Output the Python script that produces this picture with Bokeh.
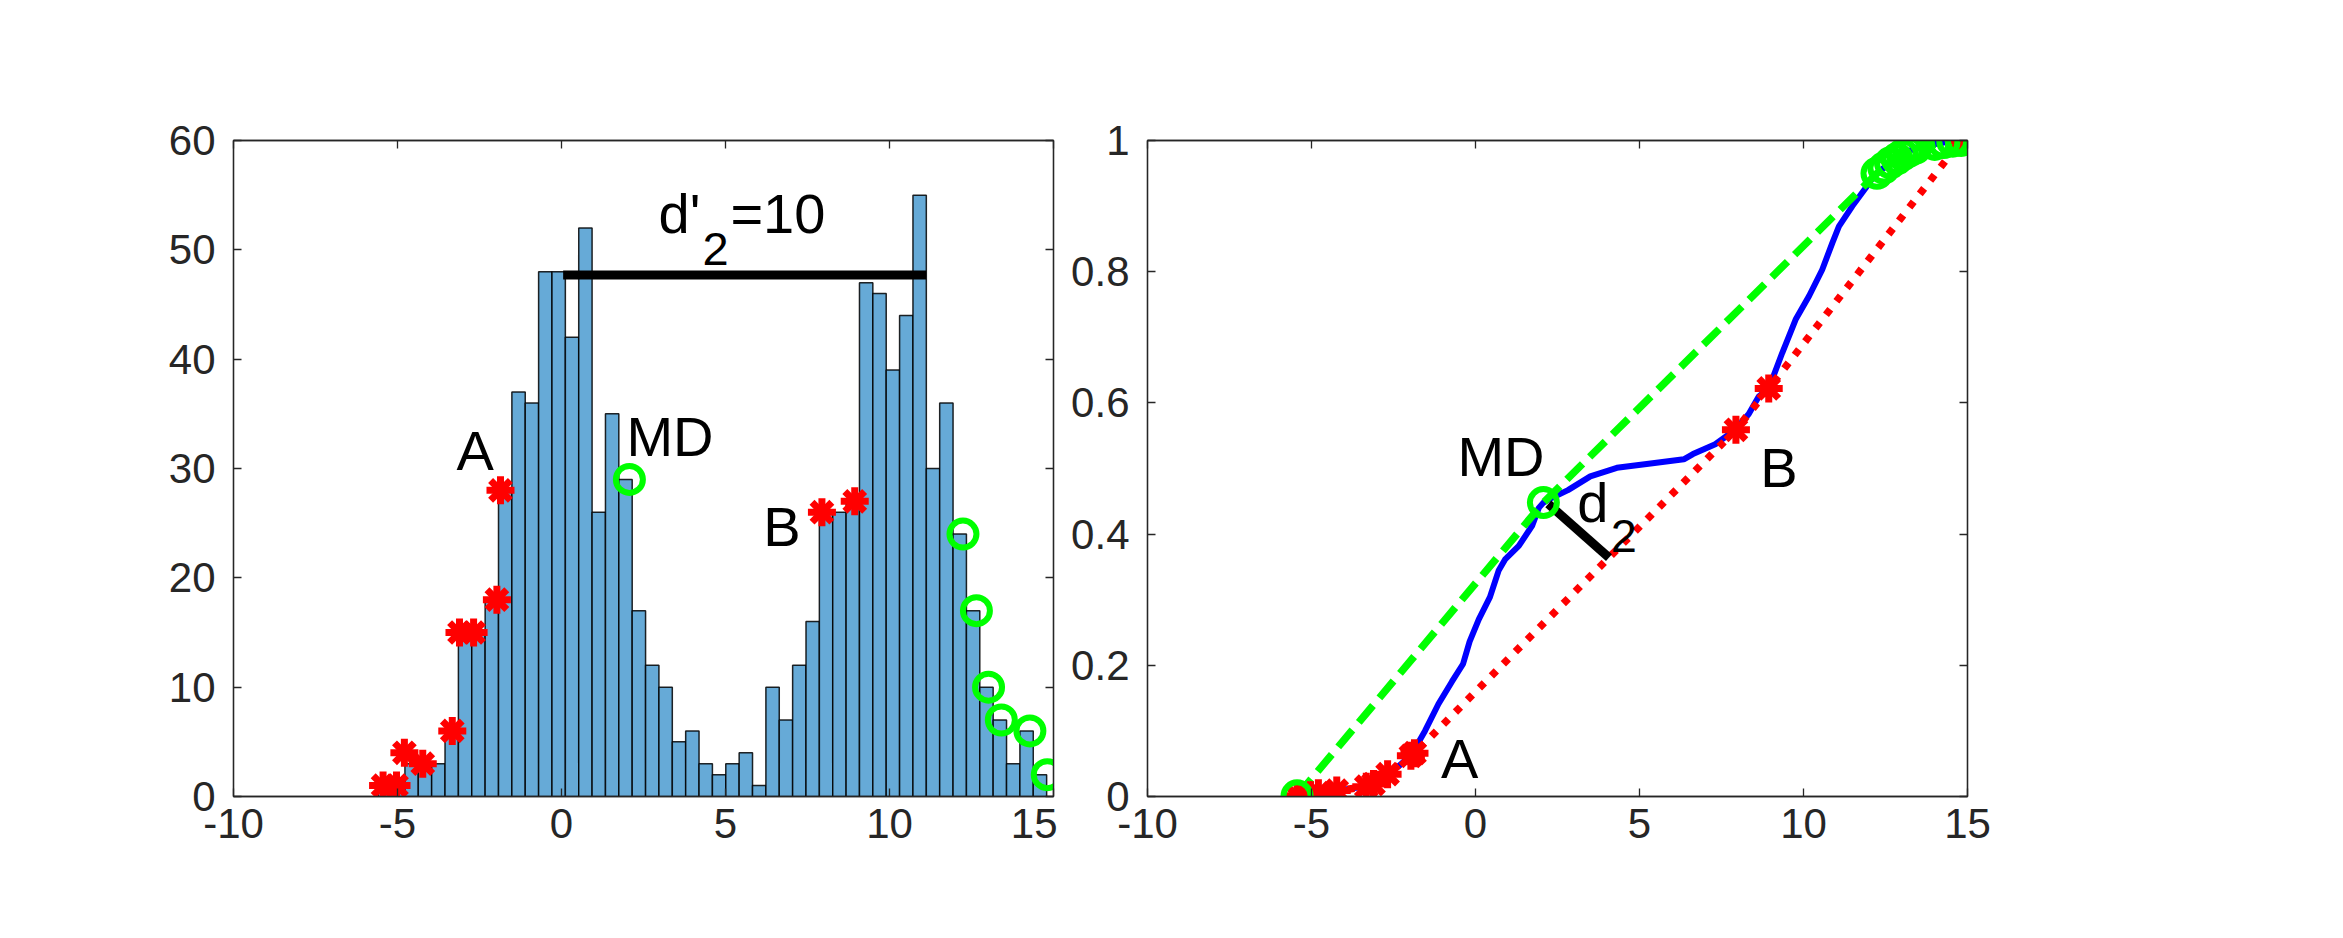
from bokeh.plotting import figure
from bokeh.layouts import row
from bokeh.models import Range1d, LinearAxis, FixedTicker
from bokeh.embed import file_html
from bokeh.resources import INLINE
from bokeh.core.properties import value
import numpy as np

# ---------------- data ----------------
x_ticks = [-10, -5, 0, 5, 10, 15]
x_tick_labels = ["-10", "-5", "0", "5", "10", "15"]
hist_y_ticks = [0, 10, 20, 30, 40, 50, 60]
cdf_y_ticks = [0, 0.2, 0.4, 0.6, 0.8, 1.0]
cdf_y_tick_labels = ["0", "0.2", "0.4", "0.6", "0.8", "1"]

# histogram: 50 bins
bin_start = -5.589
bin_width = 0.4076
counts = [1, 1, 3, 3, 3, 6, 15, 15, 18, 28,
          37, 36, 48, 48, 42, 52, 26, 35, 29, 17,
          12, 10, 5, 6, 3, 2, 3, 4, 1, 10,
          7, 12, 16, 26, 26, 27, 47, 46, 39, 44,
          55, 30, 36, 24, 17, 10, 7, 3, 6, 2]

# red star points (minorant vertices)
red_x = [-5.44, -5.03, -4.79, -4.23, -3.33, -3.11, -2.68, -1.97, -1.86, 7.94, 8.94]
red_hist = [1, 1, 4, 3, 6, 15, 15, 18, 28, 26, 27]
red_cdf_x = [-5.44, -5.03, -4.79, -4.23, -3.33, -3.11, -2.68, -1.97, -1.86, 7.94, 8.94, 14.81]
red_cdf = [0.001, 0.002, 0.005, 0.009, 0.015, 0.019, 0.034, 0.062, 0.066, 0.559, 0.622, 1.0]

# green circle points (majorant vertices)
green_x = [2.07, 12.24, 12.65, 13.02, 13.41, 14.28, 14.81]
green_hist = [29, 24, 17, 10, 7, 6, 2]
green_cdf_x = [-5.44, 2.07, 12.24, 12.45, 12.65, 12.85, 13.02, 13.20, 13.41, 14.0, 14.28, 14.55, 14.81]
green_cdf = [0.001, 0.448, 0.950, 0.958, 0.966, 0.972, 0.978, 0.983, 0.988, 0.994, 0.997, 0.999, 1.0]

# empirical CDF (blue curve)
cdf_x = [-5.44, -5.03, -4.79, -4.26, -3.8, -3.31, -2.9, -2.63, -2.3, -1.95,
         -1.54, -1.13, -0.72, -0.38, -0.18, 0.10, 0.44, 0.71, 0.91, 1.32,
         1.73, 1.93, 2.07, 2.27, 2.82, 3.50, 4.31, 5.40, 6.35, 6.63,
         7.31, 7.92, 8.33, 8.64, 8.94, 9.35, 9.76, 10.17, 10.57, 10.88,
         11.08, 11.49, 11.90, 12.15, 12.51, 12.91, 13.42, 13.93, 14.28, 14.64, 14.81]
cdf_y = [0.001, 0.002, 0.005, 0.009, 0.012, 0.016, 0.025, 0.036, 0.048, 0.064,
         0.100, 0.141, 0.175, 0.202, 0.236, 0.270, 0.304, 0.345, 0.362, 0.382,
         0.413, 0.440, 0.448, 0.454, 0.467, 0.488, 0.501, 0.508, 0.514, 0.522,
         0.537, 0.559, 0.583, 0.610, 0.622, 0.676, 0.727, 0.763, 0.803, 0.844,
         0.869, 0.900, 0.928, 0.946, 0.961, 0.976, 0.989, 0.994, 0.997, 1.0, 1.0]

# d'2 segment (left) and d2 segment (right)
dprime_x = [0.05, 11.12]
dprime_y = [47.7, 47.7]
d2_x = [2.22, 4.07]
d2_y = [0.446, 0.364]

FONT = "Liberation Sans"
AX = "#262626"
TXT_SHIFT = -22   # px, lifts annotation text to its baseline
SUB_SHIFT = -18


def style(p, yticks, ylabels=None):
    p.xgrid.visible = False
    p.ygrid.visible = False
    p.outline_line_color = AX
    p.outline_line_width = 1.3
    for ax in p.xaxis:
        ax.ticker = FixedTicker(ticks=x_ticks)
        ax.major_label_overrides = {t: l for t, l in zip(x_ticks, x_tick_labels)}
        ax.major_label_standoff = 12
    for ax in p.yaxis:
        ax.ticker = FixedTicker(ticks=yticks)
        if ylabels:
            ax.major_label_overrides = {t: l for t, l in zip(yticks, ylabels)}
        ax.major_label_standoff = 18
    for ax in list(p.xaxis) + list(p.yaxis):
        ax.axis_line_color = AX
        ax.axis_line_width = 1.3
        ax.major_tick_line_color = AX
        ax.major_tick_line_width = 1.3
        ax.major_tick_in = 8
        ax.major_tick_out = 0
        ax.minor_tick_line_color = None
        ax.major_label_text_font = FONT
        ax.major_label_text_font_size = "42px"
        ax.major_label_text_color = AX
    # box ticks on top / right: drawn as minor ticks so no labels exist
    top = LinearAxis(ticker=FixedTicker(ticks=[], minor_ticks=x_ticks),
                     major_label_standoff=0, major_tick_out=0, major_tick_in=0,
                     minor_tick_in=8, minor_tick_out=0, minor_tick_line_color=AX,
                     minor_tick_line_width=1.3, axis_line_color=AX, axis_line_width=1.3)
    right = LinearAxis(ticker=FixedTicker(ticks=[], minor_ticks=yticks),
                       major_label_standoff=0, major_tick_out=0, major_tick_in=0,
                       minor_tick_in=8, minor_tick_out=0, minor_tick_line_color=AX,
                       minor_tick_line_width=1.3, axis_line_color=AX, axis_line_width=1.3)
    p.add_layout(top, "above")
    p.add_layout(right, "right")


def stars(p, xs, ys):
    for m in ("cross", "x"):
        p.scatter(xs, ys, marker=m, size=28, line_color="#FF0000", line_width=7)


def circles(p, xs, ys):
    p.scatter(xs, ys, marker="circle", size=27, fill_color=None,
              line_color="#00FF00", line_width=6)


def label(p, x, y, t, size="56px", shift=TXT_SHIFT):
    p.text(x=[x], y=[y], text=[t], text_font=value(FONT), text_font_size=value(size),
           text_color="black", text_align="left", text_baseline="alphabetic",
           y_offset=shift)


# ---------------- left: histogram ----------------
p1 = figure(width=1057, height=907, x_range=Range1d(-10, 15), y_range=Range1d(0, 60),
            output_backend="svg", toolbar_location=None,
            min_border_left=233, min_border_right=4, min_border_top=140, min_border_bottom=111)
style(p1, hist_y_ticks)

edges = bin_start + bin_width * np.arange(len(counts) + 1)
p1.quad(left=edges[:-1], right=edges[1:], bottom=0, top=counts,
        fill_color="#66AAD7", line_color="black", line_alpha=0.85, line_width=1.5)
p1.line(dprime_x, dprime_y, line_color="black", line_width=9)
stars(p1, red_x, red_hist)
circles(p1, green_x, green_hist)
label(p1, -3.20, 29.6, "A")
label(p1, 1.98, 30.9, "MD")
label(p1, 6.15, 22.7, "B")
label(p1, 2.96, 51.35, "d'")
label(p1, 4.30, 48.4, "2", "47px", SUB_SHIFT)
label(p1, 5.15, 51.35, "=10")

# ---------------- right: CDF ----------------
p2 = figure(width=960, height=907, x_range=Range1d(-10, 15), y_range=Range1d(0, 1),
            output_backend="svg", toolbar_location=None,
            min_border_left=90, min_border_right=50, min_border_top=140, min_border_bottom=111)
style(p2, cdf_y_ticks, cdf_y_tick_labels)

p2.line(cdf_x, cdf_y, line_color="#0000FF", line_width=6)
p2.line(green_cdf_x, green_cdf, line_color="#00FF00", line_width=7.5, line_dash="22 10")
p2.line(red_cdf_x, red_cdf, line_color="#FF0000", line_width=7.5, line_dash="7 10")
p2.line(d2_x, d2_y, line_color="black", line_width=9)
stars(p2, red_cdf_x, red_cdf)
circles(p2, green_cdf_x, green_cdf)
label(p2, -0.55, 0.484, "MD")
label(p2, 3.10, 0.415, "d")
label(p2, 4.12, 0.369, "2", "47px", SUB_SHIFT)
label(p2, -1.05, 0.024, "A")
label(p2, 8.68, 0.468, "B")

layout = row(p1, p2)
open("out.html", "w").write(file_html(layout, INLINE))
